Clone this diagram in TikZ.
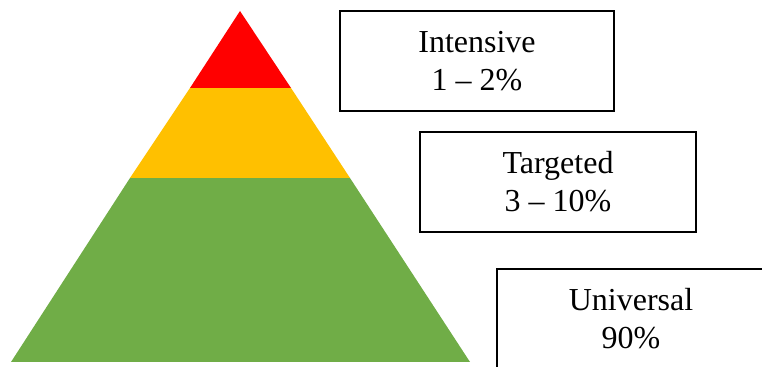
\documentclass[tikz,border=0pt]{standalone}
\usepackage{fontspec}
\setmainfont{Liberation Serif}
\usepackage{xcolor}
\usepackage{tikz}
\usetikzlibrary{positioning}

\definecolor{tierred}{HTML}{FF0000}
\definecolor{tieryellow}{HTML}{FFC000}
\definecolor{tiergreen}{HTML}{70AD47}

\begin{document}
\begin{tikzpicture}[x=0.5pt, y=-0.5pt,
    tierbox/.style={draw, line width=1pt, align=center, inner sep=0pt,
      minimum height=50pt, font=\fontsize{16}{19}\selectfont}]
  \useasboundingbox (0,0) rectangle (762,367);
  \clip (0,0) rectangle (762,367);
  % pyramid layers
  \fill[tiergreen]  (11,362) -- (470,362) -- (350,178) -- (130,178) -- cycle;
  \fill[tieryellow] (130,178) -- (350,178) -- (291,88) -- (190,88) -- cycle;
  \fill[tierred]    (190,88) -- (291,88) -- (240,11) -- cycle;
  % labels
  \node[tierbox, minimum width=137pt] (intensive) at (477,61) {Intensive\\1 -- 2\%};
  \node[tierbox, minimum width=138pt] (targeted) at (558,182) {Targeted\\3 -- 10\%};
  \node[tierbox, minimum width=134pt] (universal) at (631,319) {Universal\\90\%};
\end{tikzpicture}
\end{document}
